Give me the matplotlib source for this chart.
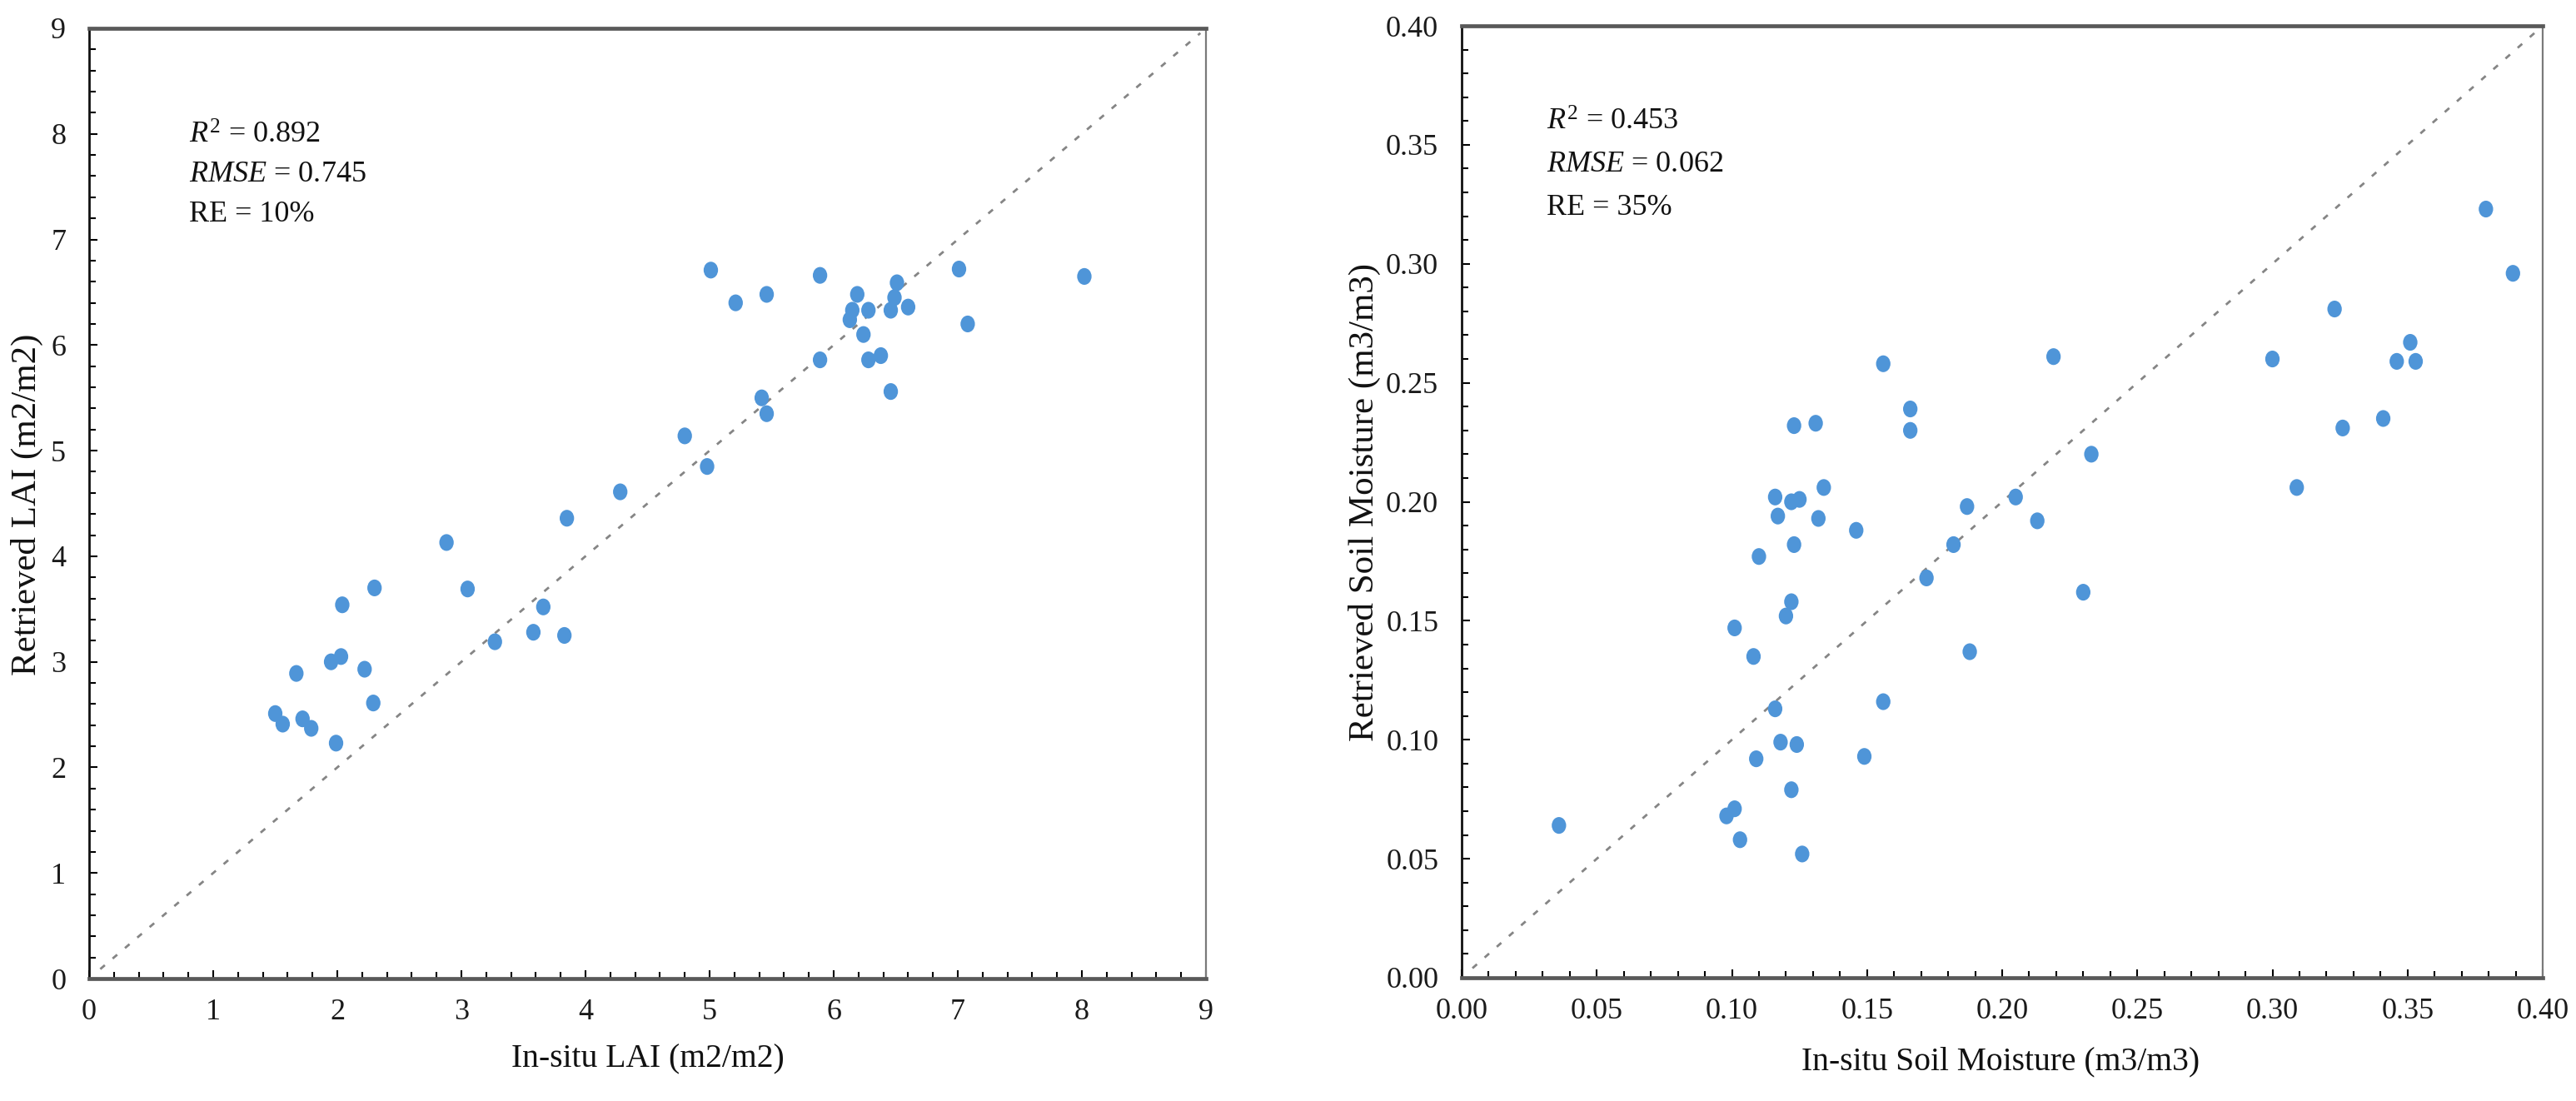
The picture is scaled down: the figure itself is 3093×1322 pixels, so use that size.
import matplotlib
matplotlib.use("Agg")
import matplotlib.pyplot as plt
from matplotlib.ticker import MultipleLocator, FormatStrFormatter
from matplotlib.path import Path
from matplotlib.transforms import Affine2D

# ---------------- data ----------------
lai_insitu = [5.01, 5.89, 5.21, 5.46, 6.19, 6.51, 6.49, 6.46, 6.60, 6.28, 6.15,
              6.13, 6.24, 7.01, 7.08, 8.02, 5.89, 6.28, 6.38, 6.46, 5.42, 5.46,
              4.80, 4.98, 4.28, 3.85, 2.88, 3.66, 3.58, 3.83, 3.27, 2.30, 3.05,
              2.04, 1.67, 1.95, 2.03, 2.22, 2.29, 1.50, 1.56, 1.72, 1.79, 1.99]
lai_retrieved = [6.71, 6.66, 6.40, 6.48, 6.48, 6.59, 6.45, 6.33, 6.36, 6.33, 6.33,
                 6.24, 6.10, 6.72, 6.20, 6.65, 5.86, 5.86, 5.90, 5.56, 5.50, 5.35,
                 5.14, 4.85, 4.61, 4.36, 4.13, 3.52, 3.28, 3.25, 3.19, 3.70, 3.69,
                 3.54, 2.89, 3.00, 3.05, 2.93, 2.61, 2.51, 2.41, 2.46, 2.37, 2.23]

sm_insitu = [0.156, 0.166, 0.166, 0.123, 0.131, 0.134, 0.116, 0.122, 0.125, 0.117,
             0.132, 0.146, 0.123, 0.110, 0.182, 0.187, 0.205, 0.172, 0.122, 0.120,
             0.101, 0.108, 0.188, 0.156, 0.116, 0.118, 0.124, 0.109, 0.149, 0.122,
             0.101, 0.098, 0.103, 0.126, 0.036, 0.379, 0.389, 0.323, 0.300, 0.351,
             0.346, 0.353, 0.341, 0.326, 0.309, 0.219, 0.233, 0.230, 0.213]
sm_retrieved = [0.258, 0.239, 0.230, 0.232, 0.233, 0.206, 0.202, 0.200, 0.201, 0.194,
                0.193, 0.188, 0.182, 0.177, 0.182, 0.198, 0.202, 0.168, 0.158, 0.152,
                0.147, 0.135, 0.137, 0.116, 0.113, 0.099, 0.098, 0.092, 0.093, 0.079,
                0.071, 0.068, 0.058, 0.052, 0.064, 0.323, 0.296, 0.281, 0.260, 0.267,
                0.259, 0.259, 0.235, 0.231, 0.206, 0.261, 0.220, 0.162, 0.192]

lai_ticks = [0, 1, 2, 3, 4, 5, 6, 7, 8, 9]
sm_ticks = [0.00, 0.05, 0.10, 0.15, 0.20, 0.25, 0.30, 0.35, 0.40]

lai_stats = ["$R^2$ = 0.892", "$RMSE$ = 0.745", "RE = 10%"]
sm_stats = ["$R^2$ = 0.453", "$RMSE$ = 0.062", "RE = 35%"]

# ---------------- style ----------------
plt.rcParams["font.family"] = ["Liberation Serif", "DejaVu Serif"]
plt.rcParams["mathtext.fontset"] = "custom"
plt.rcParams["mathtext.rm"] = "Liberation Serif"
plt.rcParams["mathtext.it"] = "Liberation Serif:italic"

W, H = 3093, 1322
fig = plt.figure(figsize=(W / 100, H / 100), dpi=100)
fig.patch.set_facecolor("white")

POINT_COLOR = "#4F95D8"
ell = Path.unit_circle().transformed(Affine2D().scale(0.86, 1.0))


def style_axes(ax, ticks, minor, fmt):
    ax.set_xlim(ticks[0], ticks[-1])
    ax.set_ylim(ticks[0], ticks[-1])
    ax.set_xticks(ticks)
    ax.set_yticks(ticks)
    ax.xaxis.set_minor_locator(MultipleLocator(minor))
    ax.yaxis.set_minor_locator(MultipleLocator(minor))
    ax.xaxis.set_major_formatter(FormatStrFormatter(fmt))
    ax.yaxis.set_major_formatter(FormatStrFormatter(fmt))
    ax.tick_params(which="both", direction="in", color="black", width=1.5,
                   top=False, right=False)
    ax.tick_params(which="major", length=7)
    ax.tick_params(which="minor", length=5.5)
    ax.tick_params(axis="x", which="major", pad=17, labelsize=26, labelcolor="#1a1a1a")
    ax.tick_params(axis="y", which="major", pad=20, labelsize=26, labelcolor="#1a1a1a")
    ax.spines["top"].set_color("#595959")
    ax.spines["top"].set_linewidth(3.4)
    ax.spines["bottom"].set_color("#595959")
    ax.spines["bottom"].set_linewidth(3.4)
    ax.spines["left"].set_color("#111111")
    ax.spines["left"].set_linewidth(2.0)
    ax.spines["right"].set_color("#7a7a7a")
    ax.spines["right"].set_linewidth(1.6)


def one_to_one(ax, ticks):
    lo, hi = ticks[0], ticks[-1]
    a = lo + 0.01 * (hi - lo)
    b = hi - 0.005 * (hi - lo)
    ax.plot([a, b], [a, b], color="#858585", lw=2.0, ls=(0, (2.6, 4.4)), zorder=1)


# ---------------- left panel ----------------
ax1 = fig.add_axes([107 / W, 1 - 1175 / H, 1341 / W, (1175 - 34) / H])
style_axes(ax1, lai_ticks, 0.2, "%d")
one_to_one(ax1, lai_ticks)
ax1.scatter(lai_insitu, lai_retrieved, s=210, marker=ell, color=POINT_COLOR,
            edgecolors="none", zorder=3)

# ---------------- right panel ----------------
ax2 = fig.add_axes([1755 / W, 1 - 1174 / H, 1298 / W, (1174 - 31) / H])
style_axes(ax2, sm_ticks, 0.01, "%.2f")
one_to_one(ax2, sm_ticks)
ax2.scatter(sm_insitu, sm_retrieved, s=210, marker=ell, color=POINT_COLOR,
            edgecolors="none", zorder=3)

# ---------------- annotations ----------------
for i, t in enumerate(lai_stats):
    fig.text(227 / W, 1 - (163 + 47 * i) / H, t, fontsize=26, va="center",
             ha="left", color="#111111")
for i, t in enumerate(sm_stats):
    fig.text(1857 / W, 1 - (147 + 51 * i) / H, t, fontsize=26, va="center",
             ha="left", color="#111111")

# ---------------- axis labels ----------------
fig.text(32 / W, 1 - 606 / H, "Retrieved LAI (m2/m2)", rotation=90,
         fontsize=31, ha="center", va="center", color="#111111")
fig.text(1638 / W, 1 - 603 / H, "Retrieved Soil Moisture (m3/m3)", rotation=90,
         fontsize=31, ha="center", va="center", color="#111111")
fig.text(778 / W, 1 - 1272 / H, "In-situ LAI (m2/m2)",
         fontsize=28.5, ha="center", va="center", color="#111111")
fig.text(2402 / W, 1 - 1275 / H, "In-situ Soil Moisture (m3/m3)",
         fontsize=28.5, ha="center", va="center", color="#111111")

fig.savefig("out.png", dpi=100, facecolor="white")
